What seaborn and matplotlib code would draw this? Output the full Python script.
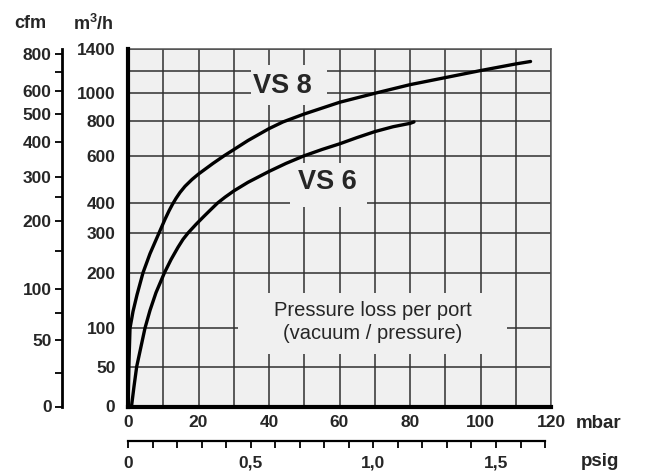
import numpy as np
import pandas as pd
import matplotlib
matplotlib.use("Agg")
import matplotlib.pyplot as plt
from matplotlib.patches import Rectangle
import seaborn as sns

# ---------------- data ----------------
vs8_mbar = [0, 0.28, 0.57, 1.42, 2.55, 4.26, 6.24, 8.79, 10.5, 11.63, 12.62, 13.62, 14.75,
            16.17, 18.16, 20.0, 24.11, 27.23, 30.07, 34.04, 40.0, 43.97, 49.93, 60.06,
            70.07, 80.0, 89.93, 99.86, 110.0, 114.2]
vs8_flow = [0, 56, 100, 130, 160, 200, 248, 300, 346, 374, 396, 420, 445,
            471, 500, 523, 568, 600, 637, 689, 758, 797, 852, 936,
            1000, 1076, 1138, 1200, 1263, 1286]
vs6_mbar = [0.99, 1.70, 2.47, 3.55, 4.82, 6.24, 7.94, 10.35, 12.2, 14.18, 15.6, 17.02, 19.29,
            21.56, 23.55, 25.39, 27.52, 30.07, 34.04, 40.0, 44.82, 49.93, 55.04, 60.06,
            64.96, 70.07, 75.18, 80.09, 81.13]
vs6_flow = [0, 25, 50, 73, 100, 132, 164, 200, 233, 264, 284, 300, 329,
            356, 379, 400, 425, 452, 488, 534, 568, 600, 637, 670,
            706, 741, 769, 789, 797]

flow_ticks = [0, 50, 100, 200, 300, 400, 600, 800, 1000, 1200, 1400]
flow_labels = ["0", "50", "100", "200", "300", "400", "600", "800", "1000", "", "1400"]
# position of each flow gridline on the chart's non-linear flow scale
flow_scale_pos = [0, 40, 78.5, 134, 173.7, 203.7, 251, 285.5, 313.7, 336.3, 357.7]

cfm_ticks = [0, 25, 50, 75, 100, 150, 200, 250, 300, 400, 500, 600, 700, 800]
cfm_labels = ["0", "", "50", "", "100", "", "200", "", "300", "400", "500", "600", "", "800"]
M3H_PER_CFM = 1.699

mbar_ticks = [0, 20, 40, 60, 80, 100, 120]
mbar_grid = [10, 30, 50, 70, 90, 110]
psig_ticks = [round(0.1 * i, 1) for i in range(18)]
psig_labels = {0.0: "0", 0.5: "0,5", 1.0: "1,0", 1.5: "1,5"}
MBAR_PER_PSI = 69.6

# ---------------- scale ----------------
G = np.array(flow_ticks, float)
P = np.array(flow_scale_pos, float)
s0 = (P[1] - P[0]) / (G[1] - G[0])
s1 = (P[-1] - P[-2]) / (G[-1] - G[-2])


def fwd(v):
    v = np.asarray(v, float)
    out = np.interp(v, G, P)
    out = np.where(v < G[0], P[0] + (v - G[0]) * s0, out)
    out = np.where(v > G[-1], P[-1] + (v - G[-1]) * s1, out)
    return out


def inv(d):
    d = np.asarray(d, float)
    out = np.interp(d, P, G)
    out = np.where(d < P[0], G[0] + (d - P[0]) / s0, out)
    out = np.where(d > P[-1], G[-1] + (d - P[-1]) / s1, out)
    return out


# ---------------- figure ----------------
sns.set_theme(style="white")
plt.rcParams["font.family"] = ["Liberation Sans", "DejaVu Sans"]
plt.rcParams["mathtext.fontset"] = "custom"
plt.rcParams["mathtext.rm"] = "Liberation Sans:bold"
plt.rcParams["mathtext.bf"] = "Liberation Sans:bold"

fig = plt.figure(figsize=(6.45, 4.71), dpi=100)
W, H = 645, 471
L, R, T, B = 128, 551, 49.3, 406.5
ax = fig.add_axes([L / W, (H - B) / H, (R - L) / W, (B - T) / H])
ax.set_facecolor("#f0f0f0")

df = pd.concat([
    pd.DataFrame({"mbar": vs8_mbar, "flow": vs8_flow, "model": "VS 8"}),
    pd.DataFrame({"mbar": vs6_mbar, "flow": vs6_flow, "model": "VS 6"}),
])
sns.lineplot(data=df, x="mbar", y="flow", hue="model",
             palette={"VS 8": "black", "VS 6": "black"},
             estimator=None, sort=False, legend=False, lw=2.4, ax=ax, zorder=4)
for ln in ax.get_lines():
    ln.set_solid_joinstyle("round")

ax.set_yscale("function", functions=(fwd, inv))
ax.set_ylim(0, 1400)
ax.set_xlim(0, 120)
ax.set_yticks(flow_ticks, flow_labels)
ax.set_xticks(mbar_ticks, [str(t) for t in mbar_ticks])
ax.set_xticks(mbar_grid, minor=True)
ax.set_xlabel("")
ax.set_ylabel("")
ax.set_axisbelow(True)
ax.grid(True, which="both", color="#303030", lw=1.1)
ax.tick_params(axis="both", which="both", length=0)
ax.tick_params(axis="y", pad=9, labelsize=12.5)
ax.tick_params(axis="x", pad=6, labelsize=12.5)
for lab in ax.get_xticklabels() + ax.get_yticklabels():
    lab.set_fontweight("bold")
for side in ("left", "bottom"):
    ax.spines[side].set_linewidth(3.0)
    ax.spines[side].set_color("black")
    ax.spines[side].set_zorder(5)
for side in ("top", "right"):
    ax.spines[side].set_linewidth(1.1)
    ax.spines[side].set_color("#555555")

# boxes that mask the grid behind labels
for (x0, y0, x1, y1) in [(0.291, 0.844, 0.470, 0.956),
                         (0.383, 0.559, 0.565, 0.682),
                         (0.260, 0.148, 0.896, 0.319)]:
    ax.add_patch(Rectangle((x0, y0), x1 - x0, y1 - y0, transform=ax.transAxes,
                           facecolor="#f0f0f0", edgecolor="none", zorder=2))

ax.text(0.366, 0.898, "VS 8", transform=ax.transAxes, ha="center", va="center",
        fontsize=19.5, fontweight="bold", zorder=6)
ax.text(0.472, 0.628, "VS 6", transform=ax.transAxes, ha="center", va="center",
        fontsize=19.5, fontweight="bold", zorder=6)
ax.text(0.578, 0.236, "Pressure loss per port\n(vacuum / pressure)", transform=ax.transAxes,
        ha="center", va="center", fontsize=14.5, linespacing=1.25, zorder=6)

# cfm axis
ax2 = ax.twinx()
ax2.set_yscale("function", functions=(lambda c: fwd(np.asarray(c, float) * M3H_PER_CFM),
                                       lambda d: inv(d) / M3H_PER_CFM))
ax2.set_ylim(0, 1400 / M3H_PER_CFM)
ax2.yaxis.tick_left()
ax2.yaxis.set_label_position("left")
ax2.set_yticks(cfm_ticks, cfm_labels)
ax2.spines["left"].set_visible(True)
ax2.spines["left"].set_position(("outward", 47.5))
ax2.spines["left"].set_linewidth(2.0)
ax2.spines["left"].set_color("black")
for side in ("right", "top", "bottom"):
    ax2.spines[side].set_visible(False)
ax2.tick_params(axis="y", direction="out", length=5, width=1.3, color="black",
                pad=2.5, labelsize=12.5)
for lab in ax2.get_yticklabels():
    lab.set_fontweight("bold")
ax2.grid(False)

# psig axis
ax3 = ax.twiny()
ax3.set_xlim(0, 120 / MBAR_PER_PSI)
ax3.xaxis.set_ticks_position("bottom")
ax3.xaxis.set_label_position("bottom")
ax3.set_xticks(psig_ticks, [psig_labels.get(t, "") for t in psig_ticks])
ax3.spines["bottom"].set_position(("outward", 24.5))
ax3.spines["bottom"].set_bounds(0, 1.7)
ax3.spines["bottom"].set_linewidth(1.6)
ax3.spines["bottom"].set_color("black")
for side in ("left", "right", "top"):
    ax3.spines[side].set_visible(False)
ax3.tick_params(axis="x", direction="out", length=5, width=1.3, color="black",
                pad=6, labelsize=12.5)
for lab in ax3.get_xticklabels():
    lab.set_fontweight("bold")
ax3.grid(False)

# unit labels
fig.text(30 / W, 1 - 24 / H, "cfm", ha="center", va="center", fontsize=13, fontweight="bold")
fig.text(93 / W, 1 - 24 / H, r"m$^{3}$/h", ha="center", va="center", fontsize=13,
         fontweight="bold")
fig.text(576 / W, 1 - 423 / H, "mbar", ha="left", va="center", fontsize=13.5, fontweight="bold")
fig.text(581 / W, 1 - 461 / H, "psig", ha="left", va="center", fontsize=13.5, fontweight="bold")

fig.savefig("out.png", dpi=100)
